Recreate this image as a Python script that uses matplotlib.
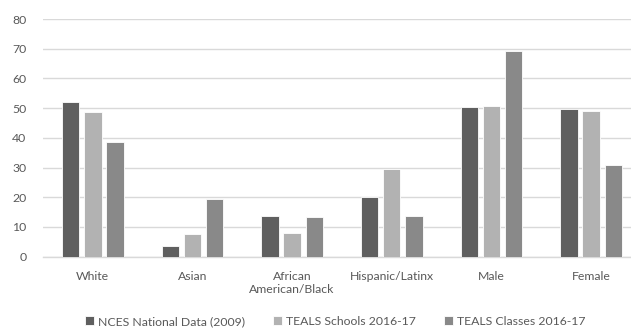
import matplotlib.pyplot as plt
import numpy as np

plt.rcParams['font.family'] = ['Lato', 'DejaVu Sans']

categories = ['White', 'Asian', 'African\nAmerican/Black', 'Hispanic/Latinx', 'Male', 'Female']
series_names = ['NCES National Data (2009)', 'TEALS Schools 2016-17', 'TEALS Classes 2016-17']
nces = [52.0, 3.5, 13.6, 20.1, 50.3, 49.7]
teals_schools = [48.8, 7.7, 8.0, 29.5, 50.8, 49.1]
teals_classes = [38.5, 19.4, 13.4, 13.6, 69.2, 30.9]
colors = ['#5f5f5f', '#b2b2b2', '#898989']
text_color = '#595959'
grid_color = '#d9d9d9'

W, H = 631, 328
fig = plt.figure(figsize=(W / 100, H / 100), dpi=100)
ax = fig.add_axes([43 / W, (H - 256.7) / H, 588 / W, 237.7 / H])

x = np.arange(len(categories))
width = 0.174
step = 0.222
for i, (vals, name, c) in enumerate(zip([nces, teals_schools, teals_classes], series_names, colors)):
    ax.bar(x + (i - 1) * step, vals, width, color=c, edgecolor='white', linewidth=0.6,
           label=name, zorder=3)

ax.set_xlim(-0.5, 5.4)
ax.set_ylim(0, 80)
ax.set_yticks(range(0, 81, 10))
ax.yaxis.grid(True, color=grid_color, linewidth=1.0, zorder=0)
ax.set_axisbelow(True)

for s in ['top', 'right', 'left']:
    ax.spines[s].set_visible(False)
ax.spines['bottom'].set_color(grid_color)
ax.spines['bottom'].set_linewidth(1.0)

ax.set_xticks(x)
ax.set_xticklabels(categories, linespacing=1.3)
ax.tick_params(axis='both', length=0, labelsize=8.8, colors=text_color)
ax.tick_params(axis='x', pad=10)
ax.tick_params(axis='y', pad=12)

fig.legend(loc='center', bbox_to_anchor=(0.531, 1 - 321.7 / H), ncol=3, frameon=False,
           fontsize=8.8, handlelength=0.75, handleheight=0.75, handletextpad=0.3,
           columnspacing=2.3, labelcolor=text_color)

fig.savefig('out.png', dpi=100, facecolor='white')
